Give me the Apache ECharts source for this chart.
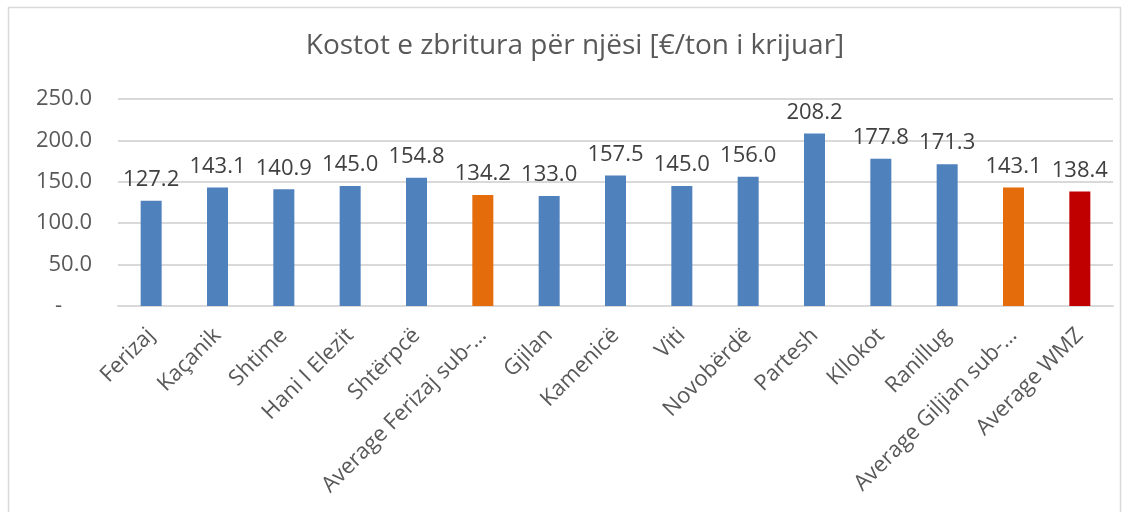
<!DOCTYPE html>
<html lang="sq">
<head>
<meta charset="UTF-8">
<title>Kostot e zbritura për njësi</title>
<script src="https://cdn.jsdelivr.net/npm/echarts@6/dist/echarts.min.js"></script>
<style>
  html, body { margin: 0; padding: 0; background: #fff; }
  #chart { width: 1129px; height: 512px; }
</style>
</head>
<body>
<div id="chart"></div>
<script>
// te dhenat e grafikut
var categories = ['Ferizaj', 'Kaçanik', 'Shtime', 'Hani I Elezit', 'Shtërpcë', 'Average Ferizaj sub-…',
  'Gjilan', 'Kamenicë', 'Viti', 'Novobërdë', 'Partesh', 'Kllokot', 'Ranillug', 'Average Giljian sub-…', 'Average WMZ'];
var values = [127.2, 143.1, 140.9, 145.0, 154.8, 134.2, 133.0, 157.5, 145.0, 156.0, 208.2, 177.8, 171.3, 143.1, 138.4];
// lloji i shtylles: komune, mesatare rajoni, mesatare WMZ
var kinds = ['m', 'm', 'm', 'm', 'm', 'r', 'm', 'm', 'm', 'm', 'm', 'm', 'm', 'r', 'w'];
var yTicks = [0, 50, 100, 150, 200, 250];

var colorOf = { m: '#4F81BD', r: '#E46C0A', w: '#C00000' };
var font = '"Open Sans", "DejaVu Sans", sans-serif';

var chart = echarts.init(document.getElementById('chart'));

var option = {
  animation: false,
  backgroundColor: '#fff',
  title: {
    text: 'Kostot e zbritura për njësi [€/ton i krijuar]',
    left: 570,
    textAlign: 'center',
    top: 27,
    textStyle: { fontFamily: font, fontSize: 28, fontWeight: 'normal', color: '#595959' }
  },
  graphic: [{
    type: 'rect',
    shape: { x: 8.5, y: 7.5, width: 1112, height: 520 },
    style: { fill: 'none', stroke: '#D9D9D9', lineWidth: 1.5 },
    silent: true
  }],
  grid: { left: 118, right: 16, top: 99, bottom: 206 },
  xAxis: {
    type: 'category',
    data: categories,
    axisLine: { lineStyle: { color: '#D9D9D9', width: 2 } },
    axisTick: { show: false },
    axisLabel: {
      rotate: 45,
      interval: 0,
      margin: 26,
      color: '#595959',
      fontFamily: font,
      fontSize: 22
    }
  },
  yAxis: {
    type: 'value',
    min: yTicks[0],
    max: yTicks[yTicks.length - 1],
    interval: 50,
    axisLine: { show: false },
    axisTick: { show: false },
    splitLine: { lineStyle: { color: '#D9D9D9', width: 2 } },
    axisLabel: {
      margin: 26,
      color: '#595959',
      fontFamily: font,
      fontSize: 22,
      formatter: function (v) {
        return v === 0 ? '{d|-}' : v.toFixed(1);
      },
      rich: { d: { padding: [0, 30, 0, 0], fontFamily: font, fontSize: 22, color: '#595959' } }
    }
  },
  series: [{
    type: 'bar',
    barWidth: 21,
    data: values.map(function (v, i) {
      return { value: v, itemStyle: { color: colorOf[kinds[i]] } };
    }),
    label: {
      show: true,
      position: 'top',
      distance: 10,
      color: '#404040',
      fontFamily: font,
      fontSize: 22,
      formatter: function (p) { return p.value.toFixed(1); }
    }
  }]
};

chart.setOption(option);
</script>
</body>
</html>
